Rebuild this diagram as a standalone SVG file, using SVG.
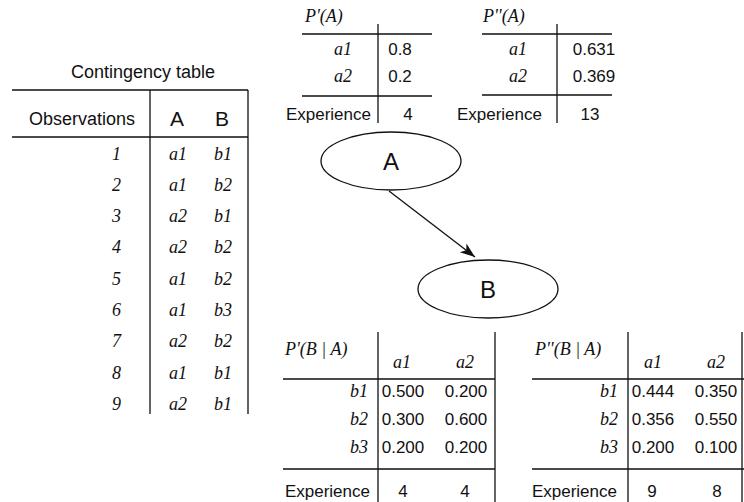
<svg xmlns="http://www.w3.org/2000/svg" width="744" height="502" viewBox="0 0 744 502">
<defs>
<marker id="arr" markerUnits="userSpaceOnUse" markerWidth="20" markerHeight="14" refX="16" refY="7" orient="auto">
<path d="M16,7 L1,1.5 L5,7 L1,12.5 Z" fill="#111"/>
</marker>
<style>
.ln{stroke:#111;stroke-width:1.3;fill:none}
.s{font-family:"Liberation Sans",Arial,sans-serif;font-size:17px;fill:#111}
.t{font-family:"Liberation Sans",Arial,sans-serif;font-size:18px;fill:#111}
.h{font-family:"Liberation Sans",Arial,sans-serif;font-size:21px;fill:#111}
.n{font-family:"Liberation Sans",Arial,sans-serif;font-size:24px;fill:#111}
.i{font-family:"Liberation Serif","Times New Roman",serif;font-style:italic;font-size:18px;fill:#111}
.m{text-anchor:middle}
.e{text-anchor:end}
</style>
</defs>
<rect width="744" height="502" fill="#fff"/>

<g id="contingency-table">
<text class="t m" x="143" y="78">Contingency table</text>
<path class="ln" d="M12,90 H248 M12,137 H248 M150,90 V414 M248,90 V414"/>
<text class="t m" x="82" y="125">Observations</text>
<text class="h m" x="177" y="126">A</text>
<text class="h m" x="222" y="126">B</text>
<g class="i">
<text class="e" x="121" y="160">1</text><text class="m" x="178" y="160">a1</text><text class="m" x="223" y="160">b1</text>
<text class="e" x="121" y="191">2</text><text class="m" x="178" y="191">a1</text><text class="m" x="223" y="191">b2</text>
<text class="e" x="121" y="222">3</text><text class="m" x="178" y="222">a2</text><text class="m" x="223" y="222">b1</text>
<text class="e" x="121" y="253">4</text><text class="m" x="178" y="253">a2</text><text class="m" x="223" y="253">b2</text>
<text class="e" x="121" y="285">5</text><text class="m" x="178" y="285">a1</text><text class="m" x="223" y="285">b2</text>
<text class="e" x="121" y="316">6</text><text class="m" x="178" y="316">a1</text><text class="m" x="223" y="316">b3</text>
<text class="e" x="121" y="347">7</text><text class="m" x="178" y="347">a2</text><text class="m" x="223" y="347">b2</text>
<text class="e" x="121" y="379">8</text><text class="m" x="178" y="379">a1</text><text class="m" x="223" y="379">b1</text>
<text class="e" x="121" y="410">9</text><text class="m" x="178" y="410">a2</text><text class="m" x="223" y="410">b1</text>
</g>
</g>

<g id="p1-A">
<text class="i" x="305" y="22">P'(A)</text>
<path class="ln" d="M302,34 H432 M302,96 H432 M378,24 V123"/>
<text class="i e" x="352" y="55">a1</text>
<text class="i e" x="352" y="82">a2</text>
<text class="s m" x="400" y="55">0.8</text>
<text class="s m" x="400" y="82">0.2</text>
<text class="s e" x="371" y="120">Experience</text>
<text class="s m" x="408" y="120">4</text>
</g>

<g id="p2-A">
<text class="i" x="483" y="22">P''(A)</text>
<path class="ln" d="M482,34 H612 M482,95 H612 M557,24 V123"/>
<text class="i e" x="527" y="55">a1</text>
<text class="i e" x="527" y="82">a2</text>
<text class="s m" x="594" y="55">0.631</text>
<text class="s m" x="594" y="82">0.369</text>
<text class="s e" x="542" y="120">Experience</text>
<text class="s m" x="590" y="120">13</text>
</g>

<g id="node-A">
<ellipse class="ln" cx="391" cy="161" rx="70" ry="29"/>
<text class="n m" x="391" y="170">A</text>
</g>
<g id="node-B">
<ellipse class="ln" cx="488" cy="289" rx="70" ry="29"/>
<text class="n m" x="488" y="298">B</text>
</g>

<g id="connectors">
<line class="ln" x1="389" y1="191" x2="475" y2="257" marker-end="url(#arr)"/>
</g>

<g id="p1-BA">
<text class="i" x="285" y="355">P'(B | A)</text>
<path class="ln" d="M283,379 H495 M283,469 H495 M378,332 V502 M495,332 V502"/>
<text class="i m" x="402" y="368">a1</text>
<text class="i m" x="465" y="368">a2</text>
<text class="i e" x="368" y="397">b1</text>
<text class="i e" x="368" y="425">b2</text>
<text class="i e" x="368" y="453">b3</text>
<text class="s m" x="403" y="397">0.500</text><text class="s m" x="466" y="397">0.200</text>
<text class="s m" x="403" y="425">0.300</text><text class="s m" x="466" y="425">0.600</text>
<text class="s m" x="403" y="453">0.200</text><text class="s m" x="466" y="453">0.200</text>
<text class="s e" x="370" y="497">Experience</text>
<text class="s m" x="403" y="497">4</text>
<text class="s m" x="465" y="497">4</text>
</g>

<g id="p2-BA">
<text class="i" x="535" y="355">P''(B | A)</text>
<path class="ln" d="M532,379 H744 M532,469 H744 M628,332 V502 M742,332 V502"/>
<text class="i m" x="653" y="368">a1</text>
<text class="i m" x="716" y="368">a2</text>
<text class="i e" x="618" y="397">b1</text>
<text class="i e" x="618" y="425">b2</text>
<text class="i e" x="618" y="453">b3</text>
<text class="s m" x="653" y="397">0.444</text><text class="s m" x="716" y="397">0.350</text>
<text class="s m" x="653" y="425">0.356</text><text class="s m" x="716" y="425">0.550</text>
<text class="s m" x="653" y="453">0.200</text><text class="s m" x="716" y="453">0.100</text>
<text class="s e" x="617" y="497">Experience</text>
<text class="s m" x="652" y="497">9</text>
<text class="s m" x="717" y="497">8</text>
</g>
</svg>
